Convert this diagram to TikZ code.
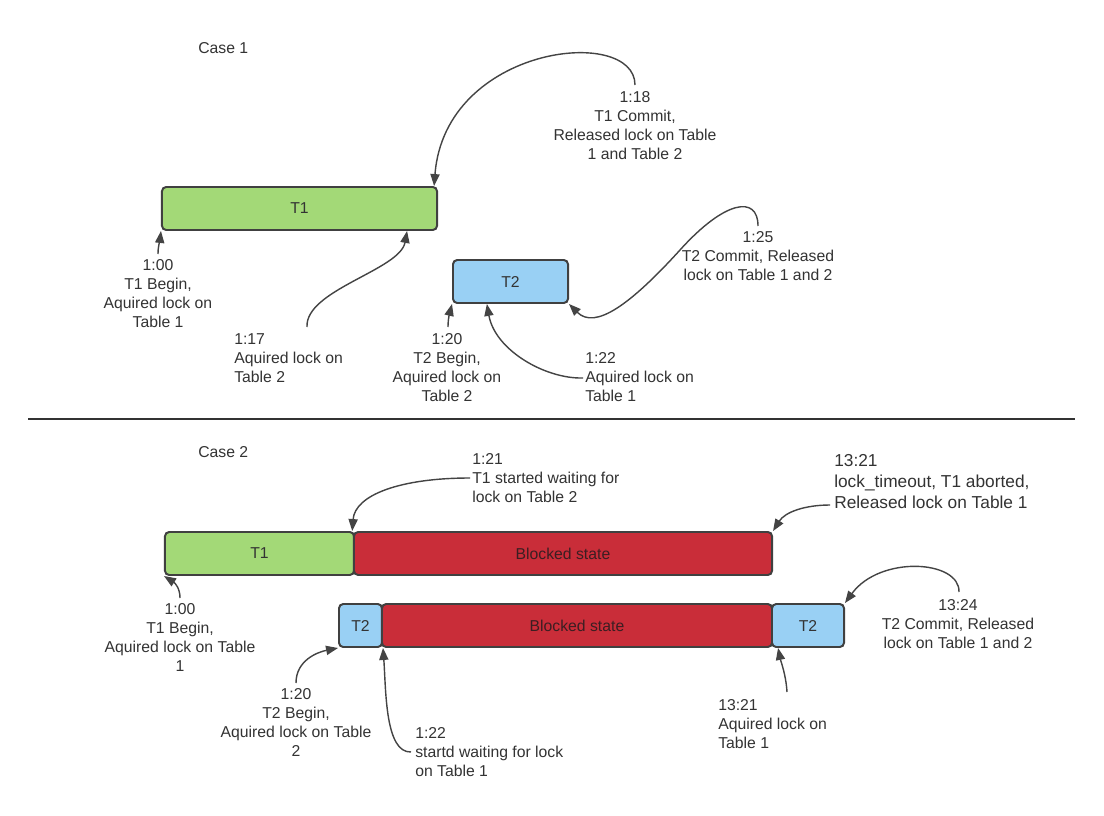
\documentclass[tikz,border=0pt]{standalone}
\usepackage{fontspec}
\setmainfont{Liberation Sans}
\usetikzlibrary{arrows.meta}
\definecolor{boxborder}{HTML}{404040}
\definecolor{greenfill}{HTML}{A3D977}
\definecolor{bluefill}{HTML}{99D0F4}
\definecolor{redfill}{HTML}{C92D39}
\definecolor{textc}{HTML}{333333}
\definecolor{blocktext}{HTML}{3B1E22}
\definecolor{arrowc}{HTML}{444444}
\tikzset{
  box/.style={draw=boxborder, line width=1.4pt, rounded corners=3pt, inner sep=0pt,
    minimum height=1.075cm, font=\fontsize{11.2pt}{13.5pt}\selectfont, text=textc},
  lbl/.style={inner sep=0pt, font=\fontsize{11.2pt}{13.5pt}\selectfont, text=textc},
  lblbig/.style={inner sep=0pt, font=\fontsize{12.3pt}{15pt}\selectfont, text=textc},
  conn/.style={draw=arrowc, line width=1pt, -{Triangle[length=8.5pt,width=6.5pt]}},
}
\begin{document}
\begin{tikzpicture}[x=0.025cm, y=-0.025cm]
\fill[white] (0,0) rectangle (1104,815);
\useasboundingbox (0,0) rectangle (1104,815);

% ---------- Case 1 ----------
\node[lbl, anchor=west] (case1) at (198,48) {Case 1};
\node[box, fill=greenfill, minimum width=6.875cm] (t1) at (299.5,208.5) {T1};
\node[box, fill=bluefill, minimum width=2.875cm] (t2) at (510.5,281.5) {T2};

\node[lbl, anchor=north, align=center] (l118) at (635,91.3) {1:18\\T1 Commit,\\Released lock on Table\\1 and Table 2};
\node[lbl, anchor=north, align=center] (l100) at (158,259.3) {1:00\\T1 Begin,\\Aquired lock on\\Table 1};
\node[lbl, anchor=north west, align=left] (l117) at (234,333.3) {1:17\\Aquired lock on\\Table 2};
\node[lbl, anchor=north, align=center] (l120) at (447,333.3) {1:20\\T2 Begin,\\Aquired lock on\\Table 2};
\node[lbl, anchor=north west, align=left] (l122) at (585,352.3) {1:22\\Aquired lock on\\Table 1};
\node[lbl, anchor=north, align=center] (l125) at (758,231.3) {1:25\\T2 Commit, Released\\lock on Table 1 and 2};

\coordinate (s118) at (635,85);
\coordinate (s100) at (158,254);
\coordinate (s117) at (307,327);
\coordinate (s120) at (448,327);
\coordinate (s122) at (583,378);
\coordinate (s125) at (758,226);
\coordinate (m125) at (680,250);

\draw[conn] (s118) .. controls (635,25) and (445,45) .. ([xshift=-2.8pt]t1.north east);
\draw[conn] (s100) .. controls (158,246) and (160,240) .. (t1.south west);
\draw[conn] (s117) .. controls (305,290) and (400,270) .. ([xshift=-22pt]t1.south east);
\draw[conn] (s120) .. controls (448,318) and (450,312) .. (t2.south west);
\draw[conn] (s122) .. controls (545,379) and (495,350) .. ([xshift=24.8pt]t2.south west);
\draw[conn] (s125) .. controls (758,195) and (725,200) .. (m125) .. controls (630,305) and (595,330) .. (t2.south east);

% separator
\draw[draw=textc, line width=0.8pt] (28,419) -- (1075,419);

% ---------- Case 2 ----------
\node[lbl, anchor=west] (case2) at (198,452) {Case 2};
\node[box, fill=greenfill, minimum width=4.725cm] (t1b) at (259.5,553.5) {T1};
\node[box, fill=redfill, minimum width=10.45cm, text=blocktext] (b1) at (563,553.5) {Blocked state};
\node[box, fill=bluefill, minimum width=1.075cm] (t2b) at (360.5,625.5) {T2};
\node[box, fill=redfill, minimum width=9.75cm, text=blocktext] (b2) at (577,625.5) {Blocked state};
\node[box, fill=bluefill, minimum width=1.8cm] (t2c) at (808,625.5) {T2};

\node[lbl, anchor=north west, align=left] (l121) at (472,453.3) {1:21\\T1 started waiting for\\lock on Table 2};
\node[lblbig, anchor=north west, align=left] (l1321a) at (834,453.8) {13:21\\lock\_timeout, T1 aborted,\\Released lock on Table 1};
\node[lbl, anchor=north, align=center] (l100b) at (180,603.3) {1:00\\T1 Begin,\\Aquired lock on Table\\1};
\node[lbl, anchor=north, align=center] (l120b) at (296,688.3) {1:20\\T2 Begin,\\Aquired lock on Table\\2};
\node[lbl, anchor=north west, align=left] (l122b) at (415,727.3) {1:22\\startd waiting for lock\\on Table 1};
\node[lbl, anchor=north west, align=left] (l1321b) at (718,698.8) {13:21\\Aquired lock on\\Table 1};
\node[lbl, anchor=north, align=center] (l1324) at (958,599.3) {13:24\\T2 Commit, Released\\lock on Table 1 and 2};

\coordinate (s121) at (470,478);
\coordinate (s1321a) at (830,505);
\coordinate (s100b) at (180,598);
\coordinate (s120b) at (296,683);
\coordinate (s122b) at (411,752);
\coordinate (s1321b) at (787,692);
\coordinate (s1324) at (959,592);

\draw[conn] (s121) .. controls (400,478) and (355,495) .. ([xshift=-2pt]t1b.north east);
\draw[conn] (s1321a) .. controls (805,505) and (785,512) .. (b1.north east);
\draw[conn] (s100b) .. controls (180,588) and (175,583) .. (t1b.south west);
\draw[conn] (s120b) .. controls (296,660) and (318,652) .. (t2b.south west);
\draw[conn] (s122b) .. controls (385,753) and (386,690) .. (t2b.south east);
\draw[conn] (s1321b) .. controls (786,675) and (781,662) .. ([xshift=5pt]t2c.south west);
\draw[conn] (s1324) .. controls (960,560) and (880,555) .. (t2c.north east);
\end{tikzpicture}
\end{document}
